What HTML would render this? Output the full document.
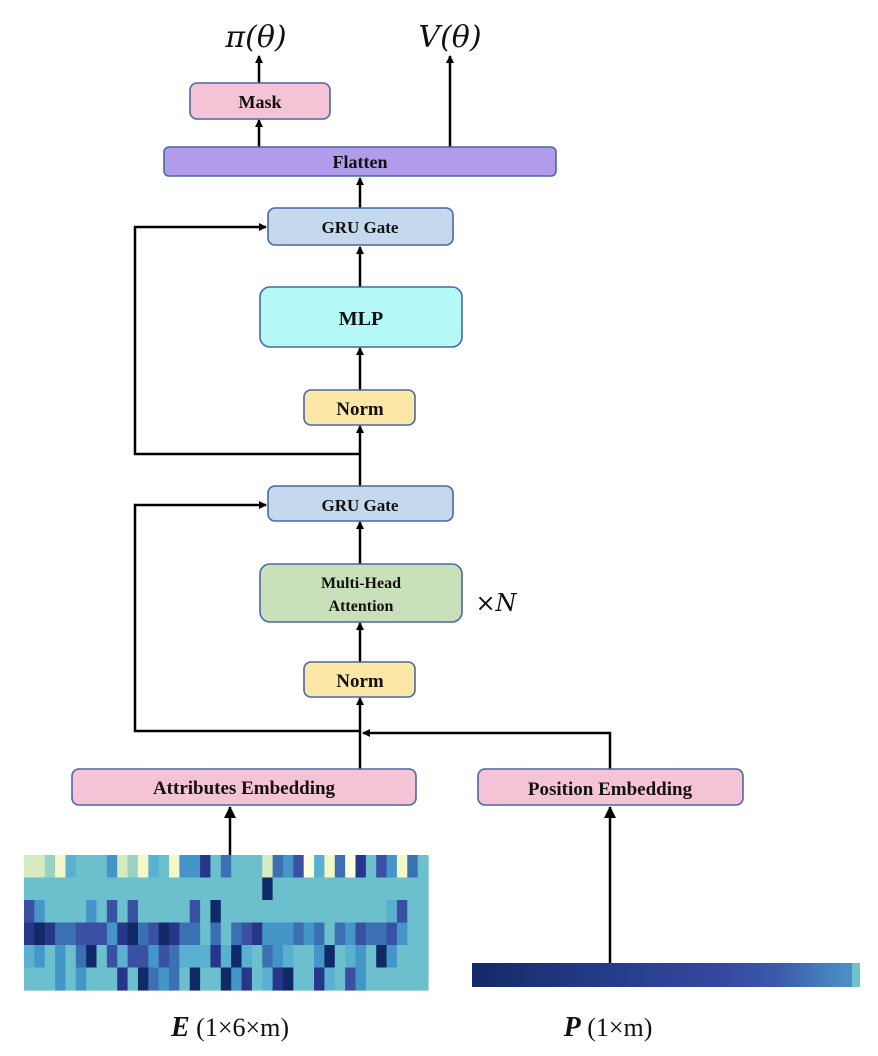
<!DOCTYPE html>
<html><head><meta charset="utf-8">
<style>
html,body{margin:0;padding:0;background:#fff;}
svg{display:block;}
.b{font-family:"Liberation Serif",serif;font-weight:bold;fill:#111;text-anchor:middle;}
.m{font-family:"DejaVu Serif","Liberation Serif",serif;fill:#111;text-anchor:middle;}
</style></head>
<body>
<svg id="s" width="878" height="1056" viewBox="0 0 878 1056" xmlns="http://www.w3.org/2000/svg">
<defs>
<marker id="a" markerWidth="8" markerHeight="8" refX="7" refY="4" orient="auto" markerUnits="userSpaceOnUse">
<path d="M0,0 L8,4 L0,8 z" fill="#000"/></marker>
<marker id="A" markerWidth="12" markerHeight="12" refX="11" refY="6" orient="auto" markerUnits="userSpaceOnUse">
<path d="M0,0 L12,6 L0,12 z" fill="#000"/></marker>
<linearGradient id="pg" x1="0" x2="1" y1="0" y2="0">
<stop offset="0" stop-color="#142a66"/><stop offset="0.35" stop-color="#243c8a"/>
<stop offset="0.65" stop-color="#34489e"/><stop offset="0.8" stop-color="#3b5aaa"/>
<stop offset="0.97" stop-color="#4a8cc4"/></linearGradient>
</defs>

<!-- outputs -->
<text class="m" x="256" y="47" font-size="30" font-style="italic">π(θ)</text>
<text class="m" x="450" y="47" font-size="30" font-style="italic">V(θ)</text>
<g stroke="#000" stroke-width="2.5" fill="none">
<line x1="259" y1="83" x2="259" y2="56" marker-end="url(#a)"/>
<line x1="450" y1="147" x2="450" y2="56" marker-end="url(#a)"/>
<line x1="259" y1="147" x2="259" y2="120" marker-end="url(#a)"/>
<line x1="360" y1="208" x2="360" y2="178" marker-end="url(#a)"/>
<line x1="360" y1="287" x2="360" y2="247" marker-end="url(#a)"/>
<line x1="360" y1="391" x2="360" y2="348" marker-end="url(#a)"/>
<line x1="360" y1="487" x2="360" y2="426" marker-end="url(#a)"/>
<polyline points="360,454 135,454 135,227 266,227" marker-end="url(#a)"/>
<line x1="360" y1="565" x2="360" y2="522" marker-end="url(#a)"/>
<line x1="360" y1="663" x2="360" y2="623" marker-end="url(#a)"/>
<line x1="360" y1="770" x2="360" y2="698" marker-end="url(#a)"/>
<polyline points="360,731 135,731 135,505 266,505" marker-end="url(#a)"/>
<polyline points="610,770 610,733 363,733" marker-end="url(#a)"/>
<line x1="230" y1="855" x2="230" y2="807" marker-end="url(#A)"/>
<line x1="610" y1="963" x2="610" y2="807" marker-end="url(#A)"/>
</g>

<g stroke="#4a67a6" stroke-width="1.6">
<rect x="190" y="83" width="140" height="36" rx="7" fill="#f5c3d6"/>
<rect x="164" y="147" width="392" height="29" rx="5" fill="#b09ceb"/>
<rect x="268" y="208" width="185" height="37" rx="7" fill="#c4d8ee"/>
<rect x="260" y="287" width="202" height="60" rx="10" fill="#b4f8f8"/>
<rect x="304" y="390" width="111" height="35" rx="7" fill="#fce7a6"/>
<rect x="268" y="486" width="185" height="35" rx="7" fill="#c4d8ee"/>
<rect x="260" y="564" width="202" height="58" rx="10" fill="#cae0ba"/>
<rect x="304" y="662" width="111" height="35" rx="7" fill="#fce7a6"/>
<rect x="72" y="769" width="344" height="36" rx="7" fill="#f5c3d6"/>
<rect x="478" y="769" width="265" height="36" rx="7" fill="#f5c3d6"/>
</g>

<text class="b" x="260" y="108" font-size="18">Mask</text>
<text class="b" x="360" y="168" font-size="18">Flatten</text>
<text class="b" x="360" y="233" font-size="17">GRU Gate</text>
<text class="b" x="361" y="325" font-size="20">MLP</text>
<text class="b" x="360" y="415" font-size="19">Norm</text>
<text class="b" x="360" y="511" font-size="17">GRU Gate</text>
<text class="b" x="361" y="588" font-size="16">Multi-Head</text>
<text class="b" x="361" y="611" font-size="16">Attention</text>
<text class="m" x="496" y="611" font-size="24">×<tspan font-style="italic">N</tspan></text>
<text class="b" x="360" y="687" font-size="19">Norm</text>
<text class="b" x="244" y="794" font-size="19">Attributes Embedding</text>
<text class="b" x="610" y="795" font-size="19">Position Embedding</text>

<!-- position bar -->
<rect x="472" y="963" width="382" height="24" fill="url(#pg)"/>
<rect x="852" y="963" width="8" height="24" fill="#6cc4cc"/>

<g id="hm"></g>

<text x="230" y="1036" font-size="26" class="b" style="font-family:'Liberation Serif',serif"><tspan font-style="italic" font-size="28">E</tspan> <tspan font-weight="normal">(1×6×m)</tspan></text>
<text x="608" y="1036" font-size="26" class="b"><tspan font-style="italic" font-size="28">P</tspan> <tspan font-weight="normal">(1×m)</tspan></text>
</svg>
<script>
var C={t:"#6cbfcc",l:"#d6ebc0",g:"#9ad3c3",y:"#f4f8c6",w:"#fefde0",c:"#5ab0d0",b:"#4496c8",m:"#3b70b3",p:"#3a50a3",d:"#27368a",n:"#102a68"};
var R=[
"llgyctttblgyctybbdtmtttlmbpwcymwdtpbymt",
"tttttttttttttttttttttttnttttttttttttttt",
"pbttttbtptptttttptnttttttttttttttttcptt",
"dndmmpppbdnmpndmmtmtmpdbbbmbmtmbpmmpbtt",
"cbtbtmntpcppbpmcccdcnctmbcttbntcbtnbttt",
"tttbtbtttdtnmbmtnttnbdtcdnttdctpbtttttt"];
var g=document.getElementById("hm"),ns="http://www.w3.org/2000/svg";
var x0=24,y0=855,W=404/39,H=135/6,s="";
for(var r=0;r<6;r++)for(var i=0;i<39;i++){
s+='<rect x="'+(x0+i*W).toFixed(2)+'" y="'+(y0+r*H).toFixed(2)+'" width="'+(W+0.6).toFixed(2)+'" height="'+(H+0.6).toFixed(2)+'" fill="'+C[R[r][i]]+'"/>';}
g.innerHTML=s;
</script>
</body></html>
